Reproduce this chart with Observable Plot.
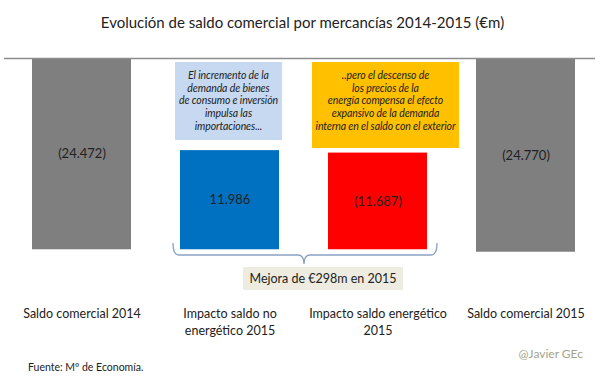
<!DOCTYPE html>
<html>
<head>
<meta charset="utf-8">
<script src="https://cdn.jsdelivr.net/npm/d3@7"></script>
<script src="https://cdn.jsdelivr.net/npm/@observablehq/plot@0.6"></script>
<style>
  html, body { margin: 0; padding: 0; background: #fff; }
  #wrap { position: relative; width: 605px; height: 378px; font-family: Lato, "Open Sans", sans-serif; color: #222; overflow: hidden; }
  #wrap svg.plot { position: absolute; left: 0; top: 0; }
  .abs { position: absolute; }
  #title { left: 0; width: 605px; top: 12px; text-align: center; font-size: 15px; line-height: 20px; }
  .note { font-style: italic; font-size: 10.5px; line-height: 12.7px; text-align: center; box-sizing: border-box; padding-top: 7px; letter-spacing: -0.1px; }
  #note1 { left: 175px; top: 62px; width: 107px; height: 78px; background: #c6d9f1; }
  #note2 { left: 312px; top: 62px; width: 147px; height: 86px; background: #ffc000; }
  #mejora { left: 243px; top: 267px; width: 160px; height: 23px; background: #eeece1; font-size: 12.5px; line-height: 23px; text-align: center; }
  #fuente { left: 28px; top: 360px; font-size: 10.5px; line-height: 14px; }
  #autor { right: 22px; top: 346px; font-size: 12px; line-height: 16px; color: #a3a38a; }
  #bracket { left: 0; top: 0; }
</style>
</head>
<body>
<div id="wrap">
  <div id="chart"></div>
  <div id="title" class="abs">Evolución de saldo comercial por mercancías 2014-2015 (€m)</div>
  <div id="note1" class="abs note">El incremento de la<br>demanda de bienes<br>de consumo e inversión<br>impulsa las<br>importaciones...</div>
  <div id="note2" class="abs note">..pero el descenso de<br>los precios de la<br>energía compensa el efecto<br>expansivo de la demanda<br>interna en el saldo con el exterior</div>
  <svg id="bracket" class="abs" width="605" height="378">
    <path d="M173,243 Q173,255 179,255 L298,255 Q304,255 304,264 Q304,255 310,255 L431,255 Q437,255 437,243" fill="none" stroke="#8aa2c4" stroke-width="1.3"/>
  </svg>
  <div id="mejora" class="abs">Mejora de €298m en 2015</div>
  <div id="fuente" class="abs">Fuente: Mº de Economía.</div>
  <div id="autor" class="abs">@Javier GEc</div>
</div>
<script>
// ---- data ----
const categories = [
  "Saldo comercial 2014",
  "Impacto saldo no\nenergético 2015",
  "Impacto saldo energético\n2015",
  "Saldo comercial 2015"
];
const values = [-24472, 11986, -11687, -24770];
const valueLabels = ["(24.472)", "11.986", "(11.687)", "(24.770)"];
const kinds = ["total", "impacto", "impacto", "total"];
const barColors = ["#7f7f7f", "#0070c0", "#ff0000", "#7f7f7f"];

// ---- layout (waterfall-style bars, as in the original) ----
const yTop = -1350;      // top of visible value axis (hidden)
const yBottom = -30000;  // bottom of visible value axis (hidden)
const start = values[0];
const rows = categories.map((c, i) => {
  const y1 = kinds[i] === "total" ? 0 : start + Math.abs(values[i]);
  const y2 = kinds[i] === "total" ? values[i] : start;
  return {cat: c, y1, y2, label: valueLabels[i], color: barColors[i],
          ymid: (Math.min(y1, yTop) + y2) / 2};
});

const chart = Plot.plot({
  width: 605,
  height: 378,
  marginTop: 58,
  marginBottom: 83,
  marginLeft: 4,
  marginRight: 10,
  style: {fontFamily: "Lato, 'Open Sans', sans-serif", background: "transparent"},
  x: {domain: categories, paddingInner: 0.331, paddingOuter: 0.1515, align: 0.578, axis: null},
  y: {domain: [yBottom, yTop], axis: null},
  marks: [
    Plot.barY(rows, {x: "cat", y1: "y1", y2: "y2", fill: "color", clip: true}),
    Plot.ruleY([yTop], {stroke: "#8c8c8c", strokeWidth: 1.5}),
    Plot.text(rows, {x: "cat", y: "ymid", text: "label", fill: "#222", fontSize: 13}),
    Plot.text(rows, {x: "cat", frameAnchor: "bottom", lineAnchor: "top", dy: 10.5,
                     text: "cat", fontSize: 12.5, lineHeight: 1.36, fill: "#222"})
  ]
});
chart.classList.add("plot");
document.getElementById("chart").appendChild(chart);
</script>
</body>
</html>
